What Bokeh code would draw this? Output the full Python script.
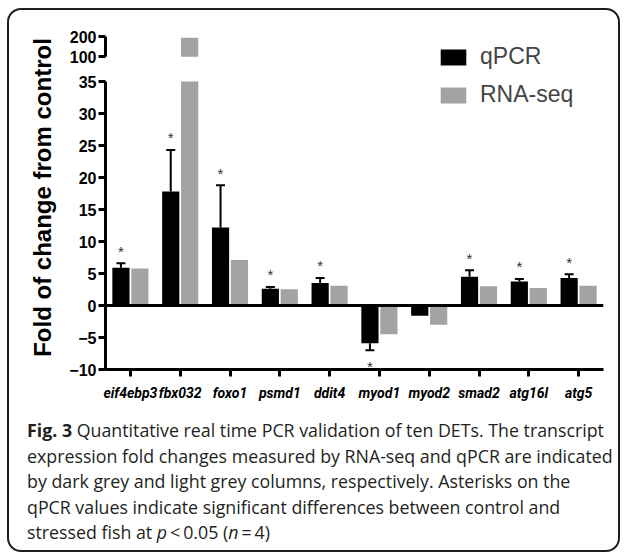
from bokeh.plotting import figure
from bokeh.models import (FactorRange, Range1d, ColumnDataSource, Whisker, TeeHead, Span,
                          Legend, LegendItem, FixedTicker, Div)
from bokeh.transform import dodge
from bokeh.layouts import column
from bokeh.core.properties import value
from bokeh.embed import file_html
from bokeh.resources import INLINE

# ---------------- data ----------------
genes = ["eif4ebp3", "fbx032", "foxo1", "psmd1", "ddit4",
         "myod1", "myod2", "smad2", "atg16l", "atg5"]
qpcr = [5.9, 17.8, 12.2, 2.6, 3.5, -5.9, -1.6, 4.5, 3.75, 4.3]
qpcr_err = [0.7, 6.5, 6.6, 0.3, 0.8, 1.1, 0.0, 1.0, 0.4, 0.6]
rnaseq = [5.8, 195.0, 7.1, 2.55, 3.1, -4.5, -3.0, 3.0, 2.75, 3.1]
significant = [True, True, True, True, True, True, False, True, True, True]
y_ticks_lower = [-10, -5, 0, 5, 10, 15, 20, 25, 30, 35]
y_ticks_upper = [100, 200]
series_names = ["qPCR", "RNA-seq"]

# ---------------- broken-axis mapping ----------------
LOW_TOP = y_ticks_lower[-1]
UP_LO, UP_HI = y_ticks_upper
UP_T_LO, UP_T_HI = 38.875, 42.0


def t(v):
    if v <= LOW_TOP:
        return v
    return UP_T_LO + (v - UP_LO) * (UP_T_HI - UP_T_LO) / (UP_HI - UP_LO)


BLACK = "#000000"
GREY = "#a3a3a3"
FONT = "Liberation Sans"

p = figure(width=609, height=400,
           x_range=FactorRange(*genes, range_padding=0),
           y_range=Range1d(-10, 43.75),
           output_backend="svg", toolbar_location=None,
           min_border_left=96, min_border_right=15,
           min_border_top=15, min_border_bottom=41)
p.outline_line_color = None
p.xgrid.grid_line_color = None
p.ygrid.grid_line_color = None
p.background_fill_color = None
p.border_fill_color = None

OFF = 0.19
W = 0.345

src = ColumnDataSource(dict(
    gene=genes,
    q_top=[min(v, LOW_TOP) for v in qpcr],
    r_top=[min(v, LOW_TOP) for v in rnaseq],
))
r_q = p.vbar(x=dodge("gene", -OFF, range=p.x_range), top="q_top", bottom=0, width=W,
             source=src, fill_color=BLACK, line_color=None)
r_r = p.vbar(x=dodge("gene", OFF, range=p.x_range), top="r_top", bottom=0, width=W,
             source=src, fill_color=GREY, line_color=None)

# upper (broken) part of bars above the break
up_genes = [g for g, v in zip(genes, rnaseq) if v > UP_LO]
up_src = ColumnDataSource(dict(
    gene=up_genes,
    bottom=[t(UP_LO) for _ in up_genes],
    top=[t(v) for v in rnaseq if v > UP_LO],
))
p.vbar(x=dodge("gene", OFF, range=p.x_range), top="top", bottom="bottom", width=W,
       source=up_src, fill_color=GREY, line_color=None)

# error bars
pos = [i for i, (v, e) in enumerate(zip(qpcr, qpcr_err)) if v >= 0 and e > 0]
neg = [i for i, (v, e) in enumerate(zip(qpcr, qpcr_err)) if v < 0 and e > 0]
err_up = ColumnDataSource(dict(gene=[genes[i] for i in pos],
                               lo=[qpcr[i] for i in pos],
                               hi=[qpcr[i] + qpcr_err[i] for i in pos]))
err_dn = ColumnDataSource(dict(gene=[genes[i] for i in neg],
                               lo=[qpcr[i] - qpcr_err[i] for i in neg],
                               hi=[qpcr[i] for i in neg]))
w1 = Whisker(source=err_up, base=dodge("gene", -OFF, range=p.x_range), lower="lo", upper="hi",
             line_width=2, line_color=BLACK, lower_head=None,
             upper_head=TeeHead(size=9, line_width=2, line_color=BLACK))
w2 = Whisker(source=err_dn, base=dodge("gene", -OFF, range=p.x_range), lower="lo", upper="hi",
             line_width=2, line_color=BLACK, upper_head=None,
             lower_head=TeeHead(size=9, line_width=2, line_color=BLACK))
p.add_layout(w1)
p.add_layout(w2)

# significance asterisks
sig_idx = [i for i, s in enumerate(significant) if s]
star_src = ColumnDataSource(dict(
    gene=[genes[i] for i in sig_idx],
    y=[qpcr[i] + (qpcr_err[i] if qpcr[i] >= 0 else -qpcr_err[i]) for i in sig_idx],
    off=[-12 if qpcr[i] >= 0 else 16 for i in sig_idx],
    txt=["*" for _ in sig_idx],
))
p.text(x=dodge("gene", -OFF, range=p.x_range), y="y", text="txt", y_offset="off",
       source=star_src, text_align="center", text_baseline="middle",
       text_font=value(FONT), text_font_size="15px", text_color="#333333")

# zero line
p.add_layout(Span(location=0, dimension="width", line_color=BLACK, line_width=3))

# broken y-axis line (two segments at the left edge of the first category)
seg_src = ColumnDataSource(dict(g=[genes[0], genes[0]],
                                y0=[y_ticks_lower[0], t(UP_LO)],
                                y1=[LOW_TOP, t(UP_HI)]))
p.segment(x0=dodge("g", -0.5, range=p.x_range), y0="y0",
          x1=dodge("g", -0.5, range=p.x_range), y1="y1", source=seg_src,
          line_color=BLACK, line_width=3, level="overlay")

# y axis
yticks = y_ticks_lower + [t(v) for v in y_ticks_upper]
p.yaxis.ticker = FixedTicker(ticks=yticks)
p.yaxis.major_label_overrides = {t(v): str(v) for v in y_ticks_upper}
p.yaxis.axis_line_color = None
p.yaxis.major_tick_in = 0
p.yaxis.major_tick_out = 7
p.yaxis.major_tick_line_width = 3
p.yaxis.minor_tick_line_color = None
p.yaxis.major_label_standoff = 2
p.yaxis.major_label_text_font = FONT
p.yaxis.major_label_text_font_style = "bold"
p.yaxis.major_label_text_font_size = "16px"
p.yaxis.major_label_text_color = BLACK
p.yaxis.axis_label = "Fold of change from control"
p.yaxis.axis_label_text_font = FONT
p.yaxis.axis_label_text_font_style = "bold"
p.yaxis.axis_label_text_font_size = "24px"
p.yaxis.axis_label_text_color = BLACK
p.yaxis.axis_label_standoff = 10

# x axis
p.xaxis.axis_line_width = 3
p.xaxis.axis_line_color = BLACK
p.xaxis.major_tick_in = 0
p.xaxis.major_tick_out = 7
p.xaxis.major_tick_line_width = 3
p.xaxis.major_label_standoff = 8
p.xaxis.major_label_text_font = "Roboto"
p.xaxis.major_label_text_font_style = "bold italic"
p.xaxis.major_label_text_font_size = "14px"
p.xaxis.major_label_text_color = BLACK

# legend (bottom-left corner of the box, in frame pixels)
legend = Legend(items=[LegendItem(label=series_names[0], renderers=[r_q]),
                       LegendItem(label=series_names[1], renderers=[r_r])],
                location=(332, 261), glyph_width=32, glyph_height=20,
                label_text_font=FONT, label_text_font_size="23px",
                label_standoff=11, spacing=11, padding=0, margin=0,
                border_line_color=None, background_fill_alpha=0)
p.add_layout(legend)

caption_html = (
    '<div style="font-family:\'Open Sans\'; font-size:17.8px; line-height:25.5px; '
    'color:#231f20; padding:3px 0 0 13px; white-space:nowrap;">'
    '<b>Fig. 3</b> Quantitative real time PCR validation of ten DETs. The transcript<br>'
    'expression fold changes measured by RNA-seq and qPCR are indicated<br>'
    'by dark grey and light grey columns, respectively. Asterisks on the<br>'
    'qPCR values indicate significant differences between control and<br>'
    'stressed fish at <i>p</i>&thinsp;&lt;&thinsp;0.05 (<i>n</i>&thinsp;=&thinsp;4)'
    '</div>'
)
cap = Div(text=caption_html, width=609, height=140)

layout = column(p, cap, width=613, height=544,
                styles={"border": "2px solid #1e1e1e", "border-radius": "14px",
                        "box-sizing": "border-box",
                        "margin-left": "7px", "margin-top": "8px"})

open("out.html", "w").write(file_html(layout, INLINE))
